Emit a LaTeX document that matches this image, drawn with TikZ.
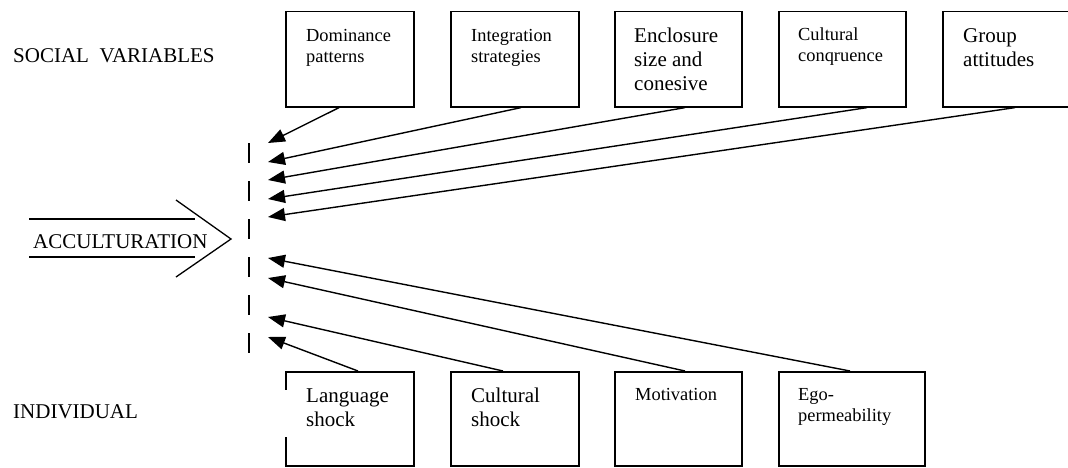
\documentclass[tikz,border=0pt]{standalone}
\usepackage{fontspec}
\setmainfont{Liberation Serif}
\usetikzlibrary{arrows.meta,calc}
\begin{document}
\begin{tikzpicture}[x=1pt,y=-1pt,
  box/.style={draw,line width=1.6pt,rectangle,inner sep=0pt,anchor=north west,minimum height=95.3pt},
  big/.style={font=\fontsize{21}{24}\selectfont,inner sep=0pt,align=left,anchor=base west},
  small/.style={font=\fontsize{18.4}{21}\selectfont,inner sep=0pt,align=left,anchor=base west},
  arr/.style={line width=1.4pt,-{Triangle[length=17pt,width=13pt]}},
  thin/.style={line width=1.3pt},
]
\useasboundingbox (0,0) rectangle (1068,467);

% side headings
\node[big] (social) at (13,62) {SOCIAL~~VARIABLES};
\node[big] (indiv) at (13,418) {INDIVIDUAL};

% social variables (text anchored at the baseline of its last line)
\node[box,minimum width=128pt] (dom) at (285,10.7) {};
\node[small] (domt) at ($(dom.north west)+(21,52)$) {Dominance\\patterns};
\node[box,minimum width=128pt] (integ) at (450,10.7) {};
\node[small] (integt) at ($(integ.north west)+(21,52)$) {Integration\\strategies};
\node[box,minimum width=127pt] (encl) at (614,10.7) {};
\node[big] (enclt) at ($(encl.north west)+(20,79.5)$) {Enclosure\\size and\\conesive};
\node[box,minimum width=127pt] (cong) at (778,10.7) {};
\node[small] (congt) at ($(cong.north west)+(20,51)$) {Cultural\\conqruence};
\node[box,minimum width=130pt] (group) at (942,10.7) {};
\node[big] (groupt) at ($(group.north west)+(21,55.5)$) {Group\\attitudes};

% individual variables
\node[box,minimum width=128pt,minimum height=94pt] (lang) at (285,371) {};
\node[big] (langt) at ($(lang.north west)+(21,55)$) {Language\\shock};
\node[box,minimum width=128pt,minimum height=94pt] (cshock) at (450,371) {};
\node[big] (cshockt) at ($(cshock.north west)+(21,55)$) {Cultural\\shock};
\node[box,minimum width=127pt,minimum height=94pt] (motiv) at (614,371) {};
\node[small] (motivt) at ($(motiv.north west)+(21,29)$) {Motivation};
\node[box,minimum width=146pt,minimum height=94pt] (ego) at (778,371) {};
\node[small] (egot) at ($(ego.north west)+(20,50)$) {Ego-\\permeability};
% open stretch on the left side of the first box
\draw[white,line width=3pt] ($(lang.north west)+(0,19)$) -- ($(lang.north west)+(0,66)$);

% acculturation front (dashed)
\coordinate (ftop) at (249,143);
\coordinate (fbot) at (249,353);
\draw[line width=1.5pt,dash pattern=on 20pt off 18pt] (ftop) -- (fbot);

% arrow tips along the front
\coordinate (t1) at (268,143);
\coordinate (t2) at (268,162);
\coordinate (t3) at (268,180);
\coordinate (t4) at (268,199);
\coordinate (t5) at (268,217);
\coordinate (b1) at (268,258);
\coordinate (b2) at (268,278);
\coordinate (b3) at (268,317);
\coordinate (b4) at (268,337);

\draw[arr] ([xshift=54pt]dom.south west) -- (t1);
\draw[arr] ([xshift=71pt]integ.south west) -- (t2);
\draw[arr] ([xshift=71pt]encl.south west) -- (t3);
\draw[arr] ([xshift=89pt]cong.south west) -- (t4);
\draw[arr] ([xshift=73pt]group.south west) -- (t5);

\draw[arr] ([xshift=72pt]ego.north west) -- (b1);
\draw[arr] ([xshift=71pt]motiv.north west) -- (b2);
\draw[arr] ([xshift=53pt]cshock.north west) -- (b3);
\draw[arr] ([xshift=73pt]lang.north west) -- (b4);

% acculturation arrow
\node[big] (acc) at (33,248) {ACCULTURATION};
\coordinate (s1) at (29,219);
\coordinate (e1) at (195,219);
\coordinate (s2) at (29,257);
\coordinate (e2) at (195,257);
\coordinate (c1) at (176,200);
\coordinate (c2) at (231,239);
\coordinate (c3) at (176,277);
\draw[thin] (s1) -- (e1);
\draw[thin] (s2) -- (e2);
\draw[thin] (c1) -- (c2) -- (c3);
\end{tikzpicture}
\end{document}
